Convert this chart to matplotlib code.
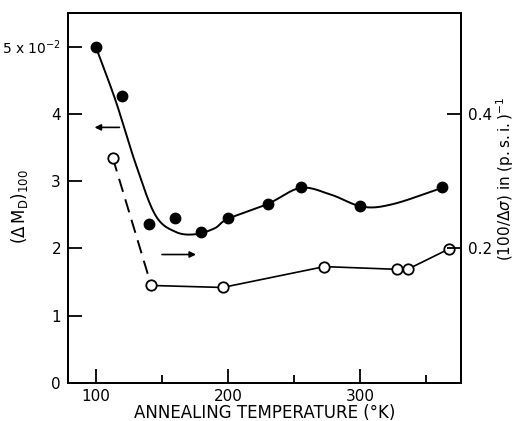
import numpy as np
import matplotlib.pyplot as plt

# filled points, left axis (Delta M_D)_100 in units of 1e-2
temp_md = [100, 120, 140, 160, 180, 200, 230, 255, 300, 362]
md = [5.0, 4.27, 2.37, 2.46, 2.24, 2.46, 2.66, 2.91, 2.63, 2.91]

# hand-drawn guide curve through the filled points
curve_t = [100, 115, 130, 145, 160, 175, 190, 200, 230, 255, 278, 302, 325, 362]
curve_v = [5.0, 4.2, 3.27, 2.5, 2.25, 2.21, 2.3, 2.44, 2.66, 2.9, 2.8, 2.62, 2.66, 2.9]

# open points, right axis (100/Delta sigma) in (p.s.i.)^-1
temp_ds = [113, 142, 196, 273, 328, 336, 367]
ds = [0.334, 0.145, 0.142, 0.173, 0.169, 0.169, 0.199]


def catmull_rom(xs, ys, n=30):
    xs = np.asarray(xs, float)
    ys = np.asarray(ys, float)
    px = np.concatenate([[2 * xs[0] - xs[1]], xs, [2 * xs[-1] - xs[-2]]])
    py = np.concatenate([[2 * ys[0] - ys[1]], ys, [2 * ys[-1] - ys[-2]]])
    ox, oy = [], []
    t = np.linspace(0, 1, n)
    for i in range(1, len(px) - 2):
        for p, out in ((px, ox), (py, oy)):
            p0, p1, p2, p3 = p[i - 1], p[i], p[i + 1], p[i + 2]
            out.extend(0.5 * (2 * p1 + (-p0 + p2) * t
                              + (2 * p0 - 5 * p1 + 4 * p2 - p3) * t ** 2
                              + (-p0 + 3 * p1 - 3 * p2 + p3) * t ** 3))
    return np.array(ox), np.array(oy)


plt.rcParams['font.family'] = ['DejaVu Sans']
fig = plt.figure(figsize=(5.21, 4.21), dpi=100)
ax = fig.add_axes([0.1305, 0.0903, 0.7545, 0.8787])
ax2 = ax.twinx()

cx, cy = catmull_rom(curve_t, curve_v)
ax.plot(cx, cy, color='black', lw=1.4)
ax.plot(temp_md, md, 'o', color='black', ms=7.5)

ds_left = [v * 10 for v in ds]
ax.plot(temp_ds[:2], ds_left[:2], color='black', lw=1.4, dashes=(7, 4))
ax.plot(temp_ds[1:], ds_left[1:], color='black', lw=1.2)
ax.plot(temp_ds, ds_left, 'o', mfc='white', mec='black', mew=1.3, ms=7.5)

ax.annotate('', xy=(97, 3.8), xytext=(120, 3.8),
            arrowprops=dict(arrowstyle='-|>', color='black', lw=1.2, mutation_scale=9))
ax.annotate('', xy=(178, 1.91), xytext=(148, 1.91),
            arrowprops=dict(arrowstyle='-|>', color='black', lw=1.2, mutation_scale=9))

ax.set_xlim(79, 376.5)
ax.set_ylim(0, 5.5)
ax2.set_ylim(0, 0.55)

ax.set_xticks([100, 200, 300])
ax.set_xticks([150, 250, 350], minor=True)
ax.set_yticks([0, 1, 2, 3, 4, 5])
ax.set_yticklabels(['0', '1', '2', '3', '4', r'5 x 10$^{-2}$'])
ax2.set_yticks([0.2, 0.4])
ax2.set_yticklabels(['0.2', '0.4'])

ax.tick_params(axis='x', direction='in', length=10, width=1.3, labelsize=11, pad=4)
ax.tick_params(axis='x', which='minor', direction='in', length=6, width=1.3)
ax.tick_params(axis='y', direction='in', length=10, width=1.3, labelsize=11, pad=5)
ax2.tick_params(axis='y', direction='in', length=10, width=1.3, labelsize=11, pad=5)
ax.get_yticklabels()[-1].set_fontsize(10)
for a in (ax, ax2):
    for s in a.spines.values():
        s.set_linewidth(1.4)

fig.text(0.508, 1 - 413 / 421, 'ANNEALING TEMPERATURE (°K)', fontsize=12,
         ha='center', va='center')
ax.set_ylabel(r'$(\Delta\,\mathrm{M_D})_{100}$', fontsize=12)
ax.yaxis.set_label_coords(-0.097, 0.476)
ax2.set_ylabel(r'$(100/\Delta\sigma)$ in $(\mathrm{p.s.i.})^{-1}$', fontsize=11,
               rotation=90, va='center')
ax2.yaxis.set_label_coords(1.112, 0.55)

fig.savefig('out.png', dpi=100)
